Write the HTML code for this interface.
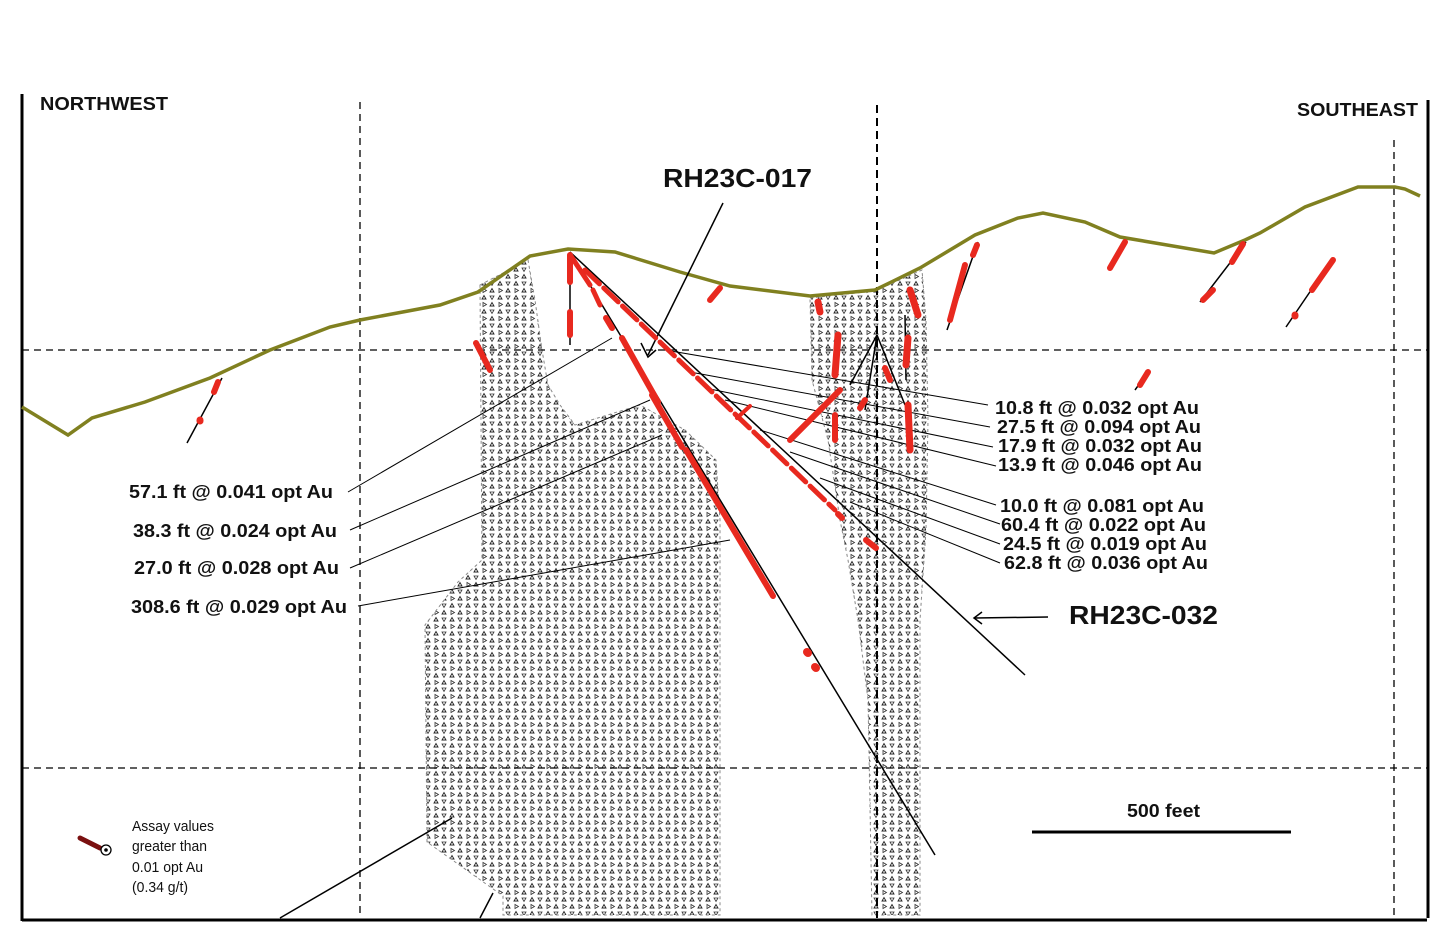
<!DOCTYPE html>
<html><head><meta charset="utf-8"><style>
html,body{margin:0;padding:0;background:#fff}
svg{display:block}
text{font-family:"Liberation Sans",Arial,sans-serif;font-weight:bold;fill:#111}
</style></head><body>
<svg width="1452" height="940" viewBox="0 0 1452 940" xmlns="http://www.w3.org/2000/svg">
<defs>
<pattern id="st" width="16" height="14" patternUnits="userSpaceOnUse">
<path d="M2,5 L6,5 L4,1.5 Z M10,12 L14,12 L12,8.5 Z" fill="none" stroke="#222" stroke-width="0.9"/>
<path d="M10,2 L14,2 L12,5.5 Z M3,8.5 L3,12.5 L6.5,10.5 Z" fill="none" stroke="#333" stroke-width="0.8"/>
</pattern>
</defs>
<rect width="1452" height="940" fill="#fff"/>

<path d="M480,285 L528,260 L535,300 L542,350 L548,385 L560,405 L575,425 L640,405 L685,430 L716,460 L720,520 L720,915 L503,915 L503,896 L427,842 L425,625 L458,582 L482,560 Z" fill="url(#st)" stroke="#888" stroke-width="1" stroke-dasharray="3,3"/>
<path d="M810,298 L875,291 L922,270 L926,320 L928,420 L926,530 L920,620 L920,915 L872,915 L868,700 L858,620 L848,560 L840,520 L828,440 L812,380 Z" fill="url(#st)" stroke="#888" stroke-width="1" stroke-dasharray="3,3"/>

<g stroke="#000" fill="none">
<line x1="22" y1="94" x2="22" y2="921" stroke-width="3"/>
<line x1="22" y1="920" x2="1427" y2="920" stroke-width="3"/>
<line x1="1428" y1="100" x2="1428" y2="918" stroke-width="3"/>
<g stroke-width="1.3" stroke-dasharray="7,5">
<line x1="360" y1="102" x2="360" y2="918"/>
<line x1="1394" y1="140" x2="1394" y2="918"/>
<line x1="22" y1="350" x2="1428" y2="350"/>
<line x1="22" y1="768" x2="1428" y2="768"/>
</g>
<line x1="877" y1="105" x2="877" y2="918" stroke-width="2" stroke-dasharray="8,5"/>
</g>

<polyline points="22,407 68,435 92,418 145,402 210,378 270,350 330,327 360,320 440,305 478,292 530,256 568,249 615,252 680,272 730,286 810,296 875,290 920,268 975,235 1018,218 1043,213 1085,222 1120,237 1214,253 1245,240 1260,233 1305,207 1358,187 1395,187 1405,189 1420,196" fill="none" stroke="#808020" stroke-width="3.5"/>

<g stroke="#000" stroke-width="1.5" fill="none">
<line x1="570" y1="252" x2="935" y2="855"/>
<line x1="570" y1="252" x2="1025" y2="675"/>
<line x1="570" y1="252" x2="570" y2="345"/>
<line x1="222" y1="378" x2="187" y2="443"/>
<line x1="978" y1="242" x2="947" y2="330"/>
<line x1="1246" y1="242" x2="1200" y2="302"/>
<line x1="1333" y1="258" x2="1286" y2="327"/>
<line x1="1148" y1="372" x2="1135" y2="390"/>
<line x1="877" y1="335" x2="850" y2="385"/>
<line x1="877" y1="335" x2="865" y2="410"/>
<line x1="877" y1="335" x2="905" y2="405"/>
<line x1="905" y1="315" x2="906" y2="380"/>
<line x1="348" y1="492" x2="612" y2="338" stroke-width="1"/>
<line x1="350" y1="530" x2="650" y2="400" stroke-width="1"/>
<line x1="350" y1="568" x2="662" y2="435" stroke-width="1"/>
<line x1="358" y1="606" x2="730" y2="540" stroke-width="1"/>
<line x1="280" y1="918" x2="452" y2="818" stroke-width="1.5"/>
<line x1="480" y1="918" x2="493" y2="893" stroke-width="1.5"/>
<g stroke-width="1">
<line x1="665" y1="350" x2="988" y2="405"/>
<line x1="690" y1="372" x2="990" y2="427"/>
<line x1="705" y1="388" x2="993" y2="447"/>
<line x1="725" y1="400" x2="996" y2="466"/>
<line x1="760" y1="430" x2="996" y2="505"/>
<line x1="790" y1="452" x2="1000" y2="524"/>
<line x1="820" y1="478" x2="1000" y2="544"/>
<line x1="850" y1="502" x2="1000" y2="563"/>
</g>
<line x1="723" y1="203" x2="648" y2="355"/>
<path d="M641,343 L648,357 L656,350" stroke-width="1.5"/>
<line x1="1048" y1="617" x2="975" y2="618"/>
<path d="M982,612 L974,618 L982,624"/>
<line x1="1032" y1="832" x2="1291" y2="832" stroke-width="3"/>
</g>

<g stroke="#e8291f" stroke-linecap="round" fill="none">
<line x1="570" y1="255" x2="570" y2="282" stroke-width="6"/>
<line x1="570" y1="312" x2="570" y2="335" stroke-width="6"/>
<line x1="571" y1="256" x2="590" y2="285" stroke-width="5"/>
<line x1="593" y1="290" x2="600" y2="305" stroke-width="5"/>
<line x1="606" y1="318" x2="612" y2="328" stroke-width="6"/>
<line x1="622" y1="338" x2="658" y2="402" stroke-width="6"/>
<line x1="652" y1="395" x2="682" y2="447" stroke-width="6"/>
<line x1="686" y1="450" x2="773" y2="596" stroke-width="6"/>
<line x1="807" y1="652" x2="808" y2="653" stroke-width="8"/>
<line x1="815" y1="667" x2="816" y2="668" stroke-width="8"/>
<line x1="585" y1="270" x2="835" y2="510" stroke-width="5" stroke-dasharray="20,6"/>
<line x1="838" y1="514" x2="842" y2="518" stroke-width="6"/>
<line x1="866" y1="540" x2="876" y2="548" stroke-width="6"/>
<line x1="737" y1="418" x2="750" y2="406" stroke-width="4"/>
<line x1="720" y1="288" x2="710" y2="300" stroke-width="6"/>
<line x1="476" y1="343" x2="490" y2="370" stroke-width="6"/>
<line x1="218" y1="382" x2="214" y2="392" stroke-width="6"/>
<line x1="200" y1="420" x2="200" y2="421" stroke-width="7"/>
<line x1="977" y1="245" x2="973" y2="255" stroke-width="6"/>
<line x1="965" y1="265" x2="950" y2="320" stroke-width="6"/>
<line x1="1125" y1="242" x2="1110" y2="268" stroke-width="6"/>
<line x1="1243" y1="244" x2="1232" y2="262" stroke-width="6"/>
<line x1="1213" y1="290" x2="1203" y2="300" stroke-width="6"/>
<line x1="1333" y1="260" x2="1312" y2="290" stroke-width="6"/>
<line x1="1295" y1="315" x2="1295" y2="316" stroke-width="7"/>
<line x1="1148" y1="372" x2="1140" y2="385" stroke-width="6"/>
<line x1="818" y1="302" x2="820" y2="312" stroke-width="7"/>
<line x1="838" y1="335" x2="835" y2="375" stroke-width="7"/>
<line x1="840" y1="390" x2="790" y2="440" stroke-width="6"/>
<line x1="835" y1="415" x2="835" y2="440" stroke-width="6"/>
<line x1="865" y1="400" x2="860" y2="408" stroke-width="6"/>
<line x1="910" y1="290" x2="918" y2="315" stroke-width="7"/>
<line x1="908" y1="338" x2="906" y2="365" stroke-width="7"/>
<line x1="885" y1="368" x2="890" y2="380" stroke-width="6"/>
<line x1="908" y1="405" x2="910" y2="450" stroke-width="7"/>
</g>

<line x1="80" y1="838" x2="100" y2="848" stroke="#7a1010" stroke-width="5" stroke-linecap="round"/>
<circle cx="106" cy="850" r="5" fill="#fff" stroke="#000" stroke-width="1.3"/>
<circle cx="106" cy="850" r="1.8" fill="#000"/>
<g font-size="15">
<text x="132" y="831" style="font-weight:normal" textLength="82" lengthAdjust="spacingAndGlyphs">Assay values</text>
<text x="132" y="851" style="font-weight:normal" textLength="75" lengthAdjust="spacingAndGlyphs">greater than</text>
<text x="132" y="872" style="font-weight:normal" textLength="71" lengthAdjust="spacingAndGlyphs">0.01 opt Au</text>
<text x="132" y="892" style="font-weight:normal" textLength="56" lengthAdjust="spacingAndGlyphs">(0.34 g/t)</text>
</g>

<text x="40" y="110" font-size="18" textLength="128" lengthAdjust="spacingAndGlyphs">NORTHWEST</text>
<text x="1297" y="116" font-size="18" textLength="121" lengthAdjust="spacingAndGlyphs">SOUTHEAST</text>
<text x="663" y="187" font-size="26" textLength="149" lengthAdjust="spacingAndGlyphs">RH23C-017</text>
<text x="1069" y="624" font-size="26" textLength="149" lengthAdjust="spacingAndGlyphs">RH23C-032</text>
<text x="1127" y="817" font-size="18" textLength="73" lengthAdjust="spacingAndGlyphs">500 feet</text>

<g font-size="18.5">
<text x="129" y="498" textLength="204" lengthAdjust="spacingAndGlyphs">57.1 ft @ 0.041 opt Au</text>
<text x="133" y="537" textLength="204" lengthAdjust="spacingAndGlyphs">38.3 ft @ 0.024 opt Au</text>
<text x="134" y="574" textLength="205" lengthAdjust="spacingAndGlyphs">27.0 ft @ 0.028 opt Au</text>
<text x="131" y="613" textLength="216" lengthAdjust="spacingAndGlyphs">308.6 ft @ 0.029 opt Au</text>
<text x="995" y="414" textLength="204" lengthAdjust="spacingAndGlyphs">10.8 ft @ 0.032 opt Au</text>
<text x="997" y="433" textLength="204" lengthAdjust="spacingAndGlyphs">27.5 ft @ 0.094 opt Au</text>
<text x="998" y="452" textLength="204" lengthAdjust="spacingAndGlyphs">17.9 ft @ 0.032 opt Au</text>
<text x="998" y="471" textLength="204" lengthAdjust="spacingAndGlyphs">13.9 ft @ 0.046 opt Au</text>
<text x="1000" y="512" textLength="204" lengthAdjust="spacingAndGlyphs">10.0 ft @ 0.081 opt Au</text>
<text x="1001" y="531" textLength="205" lengthAdjust="spacingAndGlyphs">60.4 ft @ 0.022 opt Au</text>
<text x="1003" y="550" textLength="204" lengthAdjust="spacingAndGlyphs">24.5 ft @ 0.019 opt Au</text>
<text x="1004" y="569" textLength="204" lengthAdjust="spacingAndGlyphs">62.8 ft @ 0.036 opt Au</text>
</g>
</svg>
</body></html>
